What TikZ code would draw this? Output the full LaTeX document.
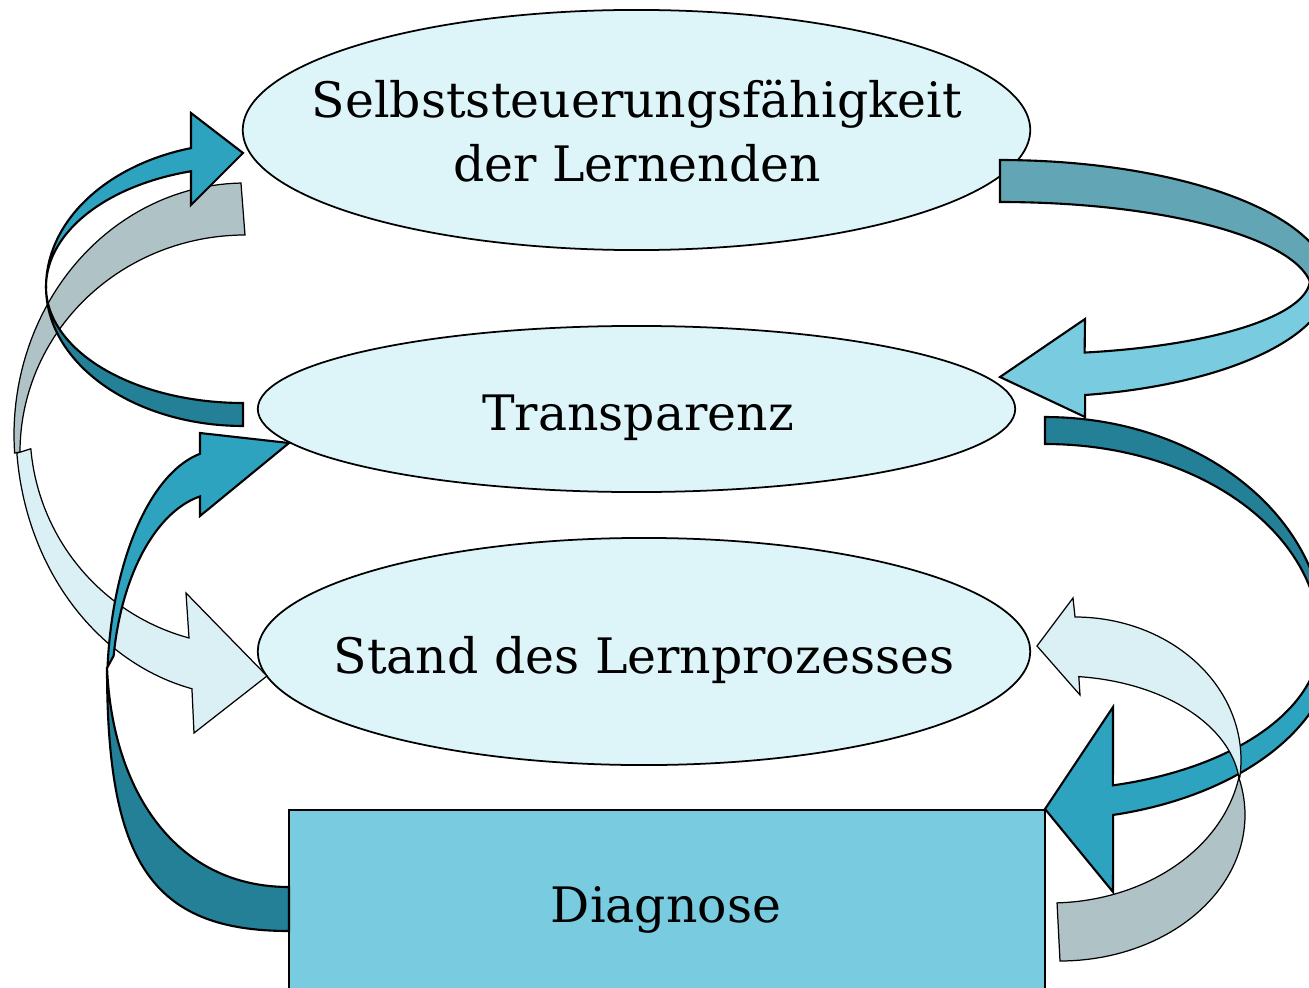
\documentclass[tikz,border=0pt]{standalone}
\usepackage{fontspec}
\setmainfont{DejaVu Serif}
\usetikzlibrary{shapes.geometric}
\definecolor{bubble}{HTML}{DDF4F9}
\definecolor{boxblue}{HTML}{79CBE0}
\definecolor{darkteal}{HTML}{238096}
\definecolor{midblue}{HTML}{2EA3BF}
\definecolor{lightblue}{HTML}{79CCE0}
\definecolor{palecyan}{HTML}{DAF0F5}
\definecolor{greyblue}{HTML}{AFC2C6}
\definecolor{greyteal}{HTML}{62A5B4}
\begin{document}
\begin{tikzpicture}[x=0.01cm,y=-0.01cm,samples=50,variable=\t,
  bub/.style={draw=black,line width=0.5pt,fill=bubble,ellipse,inner sep=0pt},
  diagbox/.style={draw=black,line width=0.5pt,fill=boxblue,rectangle,inner sep=0pt},
  ribbon/.style={draw=black,line width=0.6pt,line join=miter},
  thinribbon/.style={draw=black,line width=0.35pt,line join=miter},
  lbl/.style={font=\fontsize{13.9}{18.2}\selectfont,anchor=base,align=center}]
\useasboundingbox (0,0) rectangle (1309,988);
\clip (0,0) rectangle (1309,988);

% nodes
\node[bub,minimum width=7.87cm,minimum height=2.40cm] (sel) at (636.5,130) {};
\node[bub,minimum width=7.57cm,minimum height=1.66cm] (tra) at (636.5,409) {};
\node[bub,minimum width=7.72cm,minimum height=2.27cm] (sta) at (644,651.5) {};
\node[diagbox,minimum width=7.56cm,minimum height=1.90cm] (dia) at (667,905) {};

\node[lbl] (tsel) at (637,182) {Selbststeuerungsfähigkeit\\der Lernenden};
\node[lbl] (ttra) at (638,430) {Transparenz};
\node[lbl] (tsta) at (644,673) {Stand des Lernprozesses};
\node[lbl] (tdia) at (666,922) {Diagnose};

% B: Selbststeuerung -> Stand (left, grey/pale)
\filldraw[thinribbon,fill=greyblue]
  plot[domain=269:175.9] ({245+231*cos(\t)},{435+252*sin(\t)})
  -- plot[domain=180:270] ({245+225*cos(\t)},{452+217*sin(\t)})
  -- cycle;
\filldraw[thinribbon,fill=palecyan]
  plot[domain=175:105.1] ({245+215*cos(\t)},{430+215.4*sin(\t)})
  -- (186,593) -- (267,676) -- (194,733)
  -- plot[domain=103.4:175] ({245+229*cos(\t)},{430+266*sin(\t)})
  -- cycle;

% A: Transparenz -> Selbststeuerung (left)
\filldraw[ribbon,fill=darkteal]
  plot[domain=90:180] ({243+197*cos(\t)},{287+116*sin(\t)})
  -- plot[domain=180:90] ({243+197*cos(\t)},{287+139*sin(\t)})
  -- cycle;
\filldraw[ribbon,fill=midblue]
  plot[domain=180:254.7] ({243+197*cos(\t)},{287+144*sin(\t)})
  -- (191,113) -- (243,153) -- (191,205)
  -- plot[domain=254.7:180] ({243+197*cos(\t)},{287+120*sin(\t)})
  -- cycle;

% F: Diagnose -> Transparenz (left)
\coordinate (fpinch) at (107,667);
\filldraw[ribbon,fill=darkteal]
  (289,887) .. controls (175,887) and (112,790) .. (fpinch)
  .. controls (107,860) and (150,931) .. (289,931)
  -- cycle;
\filldraw[ribbon,fill=midblue]
  plot[domain=185.5:259.8] ({220+113*cos(\t)},{690+240*sin(\t)})
  -- (200,433) -- (289,443) -- (200,516)
  -- plot[domain=259.3:190] ({220+108*cos(\t)},{690+197*sin(\t)})
  -- cycle;

% C: Selbststeuerung -> Transparenz (right)
\filldraw[ribbon,fill=greyteal]
  plot[domain=270:360] ({1000+330*cos(\t)},{285+125*sin(\t)})
  -- plot[domain=360:270] ({1000+312*cos(\t)},{292+90*sin(\t)})
  -- cycle;
\filldraw[ribbon,fill=lightblue]
  plot[domain=0:78.75] ({1030+280*cos(\t)},{279+75*sin(\t)})
  -- (1085,319) -- (1000,377) -- (1085,417)
  -- plot[domain=79.4:0] ({1030+300*cos(\t)},{280+117*sin(\t)})
  -- cycle;

% D: Transparenz -> Diagnose (right)
\filldraw[ribbon,fill=darkteal]
  plot[domain=270:360] ({1045+280*cos(\t)},{640+223*sin(\t)})
  -- plot[domain=360:270] ({1045+275*cos(\t)},{640+196*sin(\t)})
  -- cycle;
\filldraw[ribbon,fill=midblue]
  plot[domain=0:75.7] ({1045+275*cos(\t)},{640+150*sin(\t)})
  -- (1113,707) -- (1045,809) -- (1113,892)
  -- plot[domain=76.4:0] ({1045+290*cos(\t)},{640+180*sin(\t)})
  -- cycle;

% E: Diagnose -> Stand (right, grey/pale)
\filldraw[thinribbon,fill=greyblue]
  plot[domain=87.9:10] ({1050+192*cos(\t)},{750+153*sin(\t)})
  -- plot[domain=-15:90] ({1060+185*cos(\t)},{815+146*sin(\t)})
  -- cycle;
\filldraw[thinribbon,fill=palecyan]
  plot[domain=-90:7] ({1075+166*cos(\t)},{760+143*sin(\t)})
  -- plot[domain=-6:-84] ({1060+180*cos(\t)},{790+114*sin(\t)})
  -- (1080,695) -- (1037,646) -- (1073,598)
  -- cycle;
\end{tikzpicture}
\end{document}
